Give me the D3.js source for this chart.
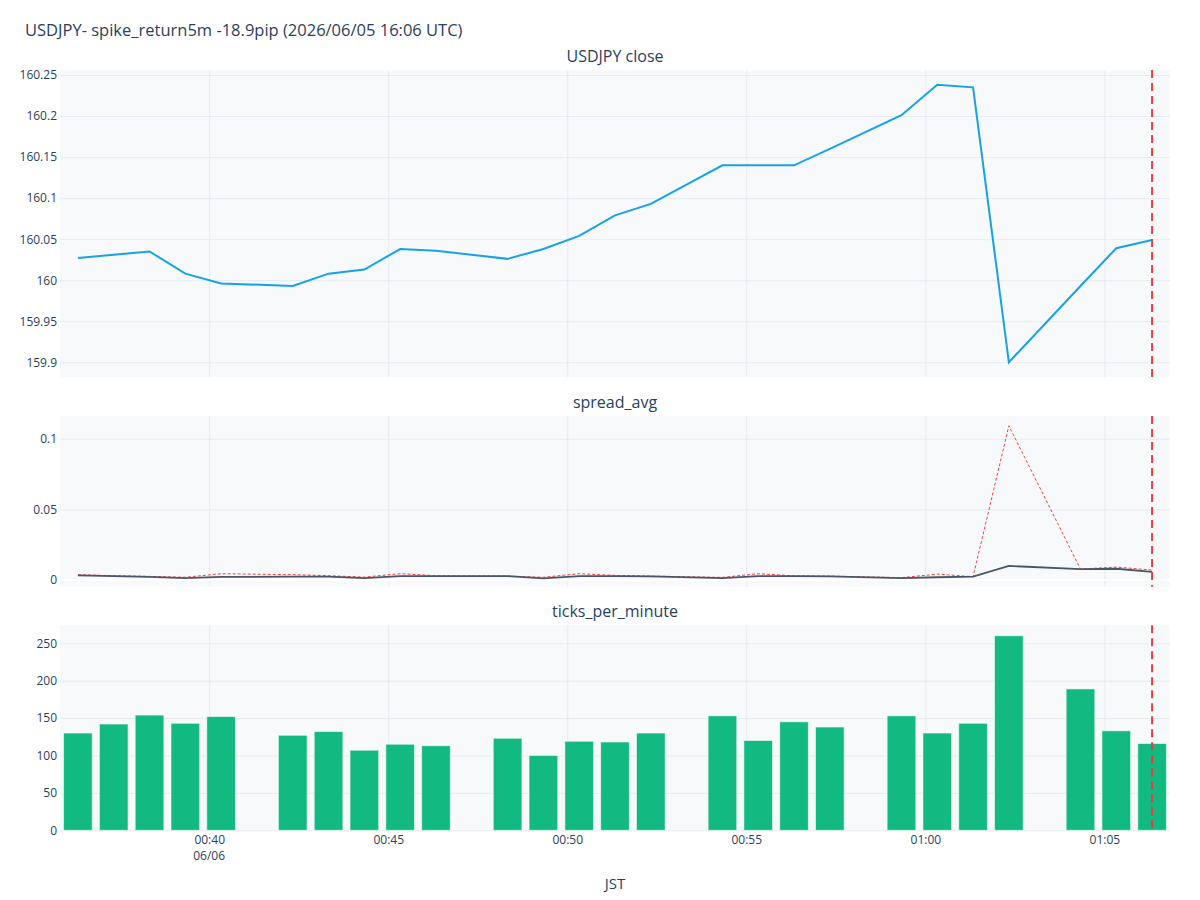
<!DOCTYPE html>
<html>
<head>
<meta charset="UTF-8">
<title>USDJPY spike</title>
<style>
    body { margin: 0; background: #fff; }
    svg text { font-family: "Open Sans", sans-serif; fill: #2a3f5f; }
    .grid line { stroke: #e6ebf3; stroke-width: 1; }
    .grid path { display: none; }
    .axis path, .axis line { display: none; }
    .axis text { font-size: 12px; }
</style>
</head>
<body>
<script src="https://cdn.jsdelivr.net/npm/d3@7"></script>
<script>
    // one point per minute (JST), missing minutes are simply absent
    var times = [
        "00:36:20", "00:37:20", "00:38:20", "00:39:20", "00:40:20",
        "00:42:20", "00:43:20", "00:44:20", "00:45:20", "00:46:20",
        "00:48:20", "00:49:20", "00:50:20", "00:51:20", "00:52:20",
        "00:54:20", "00:55:20", "00:56:20", "00:57:20",
        "00:59:20", "01:00:20", "01:01:20", "01:02:20",
        "01:04:20", "01:05:20", "01:06:20"
    ];
    var closes = [
        160.027, 160.031, 160.035, 160.008, 159.996,
        159.993, 160.008, 160.013, 160.038, 160.036,
        160.026, 160.038, 160.054, 160.079, 160.093,
        160.140, 160.140, 160.140, 160.160,
        160.201, 160.238, 160.235, 159.900,
        159.993, 160.039, 160.049
    ];
    var spreadAvg = [
        0.0033, 0.0028, 0.0022, 0.0014, 0.0022,
        0.0024, 0.0024, 0.0014, 0.0028, 0.0028,
        0.0028, 0.0012, 0.0028, 0.0028, 0.0026,
        0.0014, 0.0028, 0.0028, 0.0026,
        0.0014, 0.0020, 0.0024, 0.0100,
        0.0077, 0.0080, 0.0058
    ];
    var spreadMax = [
        0.0038, 0.0031, 0.0026, 0.0020, 0.0045,
        0.0038, 0.0031, 0.0021, 0.0045, 0.0031,
        0.0028, 0.0020, 0.0045, 0.0033, 0.0028,
        0.0019, 0.0045, 0.0030, 0.0028,
        0.0017, 0.0042, 0.0024, 0.1092,
        0.0078, 0.0092, 0.0071
    ];
    var ticksPerMinute = [
        130, 142, 154, 143, 152,
        127, 132, 107, 115, 113,
        123, 100, 119, 118, 130,
        153, 120, 145, 138,
        153, 130, 143, 260,
        189, 133, 116
    ];
    var day = "2026-06-06";
    var eventTime = "01:06:20";
    var xFrom = "00:35:50", xTo = "01:06:50";
    var closeTicks = [159.9, 159.95, 160, 160.05, 160.1, 160.15, 160.2, 160.25];
    var spreadTicks = [0, 0.05, 0.1];
    var countTicks = [0, 50, 100, 150, 200, 250];
    var panelTitles = ["USDJPY close", "spread_avg", "ticks_per_minute"];
    var title = "USDJPY- spike_return5m -18.9pip (2026/06/05 16:06 UTC)";

    var width = 1200, height = 900,
        left = 60, right = 1170;

    var parse = d3.timeParse("%Y-%m-%d %H:%M:%S");
    function t(s) { return parse(day + " " + s); }

    var rows = times.map(function(s, i) {
        return { t: t(s), close: closes[i], avg: spreadAvg[i], max: spreadMax[i], n: ticksPerMinute[i] };
    });

    var x = d3.scaleTime()
        .domain([t(xFrom), t(xTo)])
        .range([left, right]);

    var panels = [
        { top: 70, bottom: 377.3, domain: [159.8817, 160.2561], ticks: closeTicks },
        { top: 416, bottom: 586.7, domain: [-0.0047, 0.1161], ticks: spreadTicks },
        { top: 625.3, bottom: 830.3, domain: [0, 274], ticks: countTicks }
    ];
    panels.forEach(function(p) {
        p.y = d3.scaleLinear().domain(p.domain).range([p.bottom, p.top]);
    });

    var svg = d3.select("body").append("svg")
        .attr("width", width)
        .attr("height", height);

    svg.append("text")
        .attr("x", 25)
        .attr("y", 36)
        .style("font-size", "16.5px")
        .text(title);

    var xTickVals = x.ticks(d3.timeMinute.every(5));

    panels.forEach(function(p, k) {
        var g = svg.append("g");
        g.append("rect")
            .attr("x", left).attr("y", p.top)
            .attr("width", right - left).attr("height", p.bottom - p.top)
            .attr("fill", "#f8f9fa");

        g.append("g")
            .attr("class", "grid")
            .attr("transform", "translate(0," + p.bottom + ")")
            .call(d3.axisBottom(x).tickValues(xTickVals).tickSize(-(p.bottom - p.top)).tickFormat(""));

        g.append("g")
            .attr("class", "grid")
            .attr("transform", "translate(" + left + ",0)")
            .call(d3.axisLeft(p.y).tickValues(p.ticks).tickSize(-(right - left)).tickFormat(""));

        g.append("g")
            .attr("class", "axis")
            .attr("transform", "translate(" + left + ",0)")
            .call(d3.axisLeft(p.y).tickValues(p.ticks).tickSize(0).tickPadding(3).tickFormat(d3.format("~g")));

        svg.append("text")
            .attr("x", (left + right) / 2)
            .attr("y", p.top - 8)
            .attr("text-anchor", "middle")
            .style("font-size", "16px")
            .text(panelTitles[k]);
    });

    // zero line on the spread panel
    var sp = panels[1];
    svg.append("line")
        .attr("x1", left).attr("x2", right)
        .attr("y1", sp.y(0)).attr("y2", sp.y(0))
        .attr("stroke", "#fff").attr("stroke-width", 2);

    // close
    var p0 = panels[0];
    svg.append("path")
        .datum(rows)
        .attr("fill", "none")
        .attr("stroke", "#17a2e6")
        .attr("stroke-width", 2)
        .attr("d", d3.line().x(function(d) { return x(d.t); }).y(function(d) { return p0.y(d.close); }));

    // spread
    svg.append("path")
        .datum(rows)
        .attr("fill", "none")
        .attr("stroke", "#ef4444")
        .attr("stroke-width", 1)
        .attr("stroke-dasharray", "3,2")
        .attr("d", d3.line().x(function(d) { return x(d.t); }).y(function(d) { return sp.y(d.max); }));

    svg.append("path")
        .datum(rows)
        .attr("fill", "none")
        .attr("stroke", "#4a5568")
        .attr("stroke-width", 1.8)
        .attr("d", d3.line().x(function(d) { return x(d.t); }).y(function(d) { return sp.y(d.avg); }));

    // ticks per minute
    var p2 = panels[2];
    var half = x(d3.timeSecond.offset(t(xFrom), 24)) - x(t(xFrom));
    svg.append("g").selectAll("rect")
        .data(rows)
        .enter().append("rect")
        .attr("x", function(d) { return x(d.t) - half; })
        .attr("width", half * 2)
        .attr("y", function(d) { return p2.y(d.n); })
        .attr("height", function(d) { return p2.y(0) - p2.y(d.n); })
        .attr("fill", "#12b981")
        .attr("stroke", "rgba(255,255,255,0.55)")
        .attr("stroke-width", 1);

    // event marker
    panels.forEach(function(p) {
        svg.append("line")
            .attr("x1", x(t(eventTime))).attr("x2", x(t(eventTime)))
            .attr("y1", p.top).attr("y2", p.bottom)
            .attr("stroke", "#e53e3e")
            .attr("stroke-width", 2)
            .attr("stroke-dasharray", "8,5");
    });

    // x axis labels on bottom panel
    svg.append("g")
        .attr("class", "axis")
        .attr("transform", "translate(0," + p2.bottom + ")")
        .call(d3.axisBottom(x).tickValues(xTickVals).tickSize(0).tickPadding(5).tickFormat(d3.timeFormat("%H:%M")));

    svg.append("text")
        .attr("x", x(xTickVals[0]))
        .attr("y", 860)
        .attr("text-anchor", "middle")
        .style("font-size", "12px")
        .text(d3.timeFormat("%m/%d")(xTickVals[0]));

    svg.append("text")
        .attr("x", (left + right) / 2)
        .attr("y", 889)
        .attr("text-anchor", "middle")
        .style("font-size", "15px")
        .text("JST");
</script>
</body>
</html>
